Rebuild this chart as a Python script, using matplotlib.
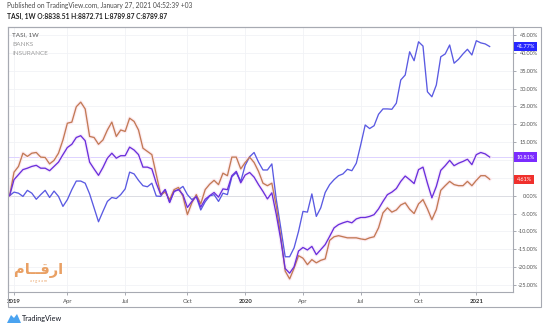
import matplotlib
matplotlib.use('Agg')
import matplotlib.pyplot as plt
import numpy as np
import pandas as pd
from matplotlib.patches import Rectangle, Polygon
import matplotlib.transforms as mtransforms

# ---------------- data (weekly % change from first bar) ----------------
start_date = '2018-12-31'

tasi = [0, 4.5, 5.9, 7.3, 7.7, 8.2, 8.5, 7.7, 7.7, 7.0,
        8.2, 9.4, 11.5, 13.5, 14.4, 16.3, 16.8, 15.4, 9.4, 7.5,
        5.7, 7.9, 10.5, 11.9, 10.5, 11.2, 11.2, 13.6, 12.8, 11.5,
        8.0, 8.0, 7.5, 3.5, 0.3, 1.7, -1.9, 1.2, 1.7, 0.3,
        -3.3, -1.6, -0.2, -3.2, -1.0, 0.0, 0.9, -0.4, 1.9, 1.7,
        5.6, 6.8, 3.6, 5.8, 6.5, 5.2, 3.1, 1.2, -0.9, 0.8,
        -5.3, -12.3, -20.4, -21.7, -19.9, -15.5, -14.5, -15.2, -14.2, -16.5,
        -15.1, -13.7, -11.4, -9.0, -8.1, -7.6, -7.2, -7.6, -6.5, -6.1,
        -6.1, -5.8, -5.3, -3.7, -1.6, 0.3, 1.0, 2.0, 4.0, 5.5,
        4.5, 3.4, 7.3, 8.0, 3.5, -0.6, 2.6, 7.1, 8.4, 9.9,
        8.4, 9.1, 9.6, 10.2, 8.7, 11.5, 12.1, 11.7, 10.81]

banks = [0, 6.6, 8.2, 11.9, 11.0, 11.9, 12.1, 10.8, 10.7, 8.9,
         9.9, 11.9, 15.6, 20.3, 20.6, 24.9, 26.2, 24.3, 16.6, 16.3,
         14.4, 15.6, 18.4, 20.6, 16.6, 18.4, 18.0, 21.7, 20.8, 18.4,
         13.3, 12.4, 11.5, 5.9, 0.3, 1.0, -1.1, 1.7, 2.3, -0.2,
         -5.3, -2.0, 0.3, -2.3, 1.7, 3.2, 4.3, 3.1, 6.3, 5.6,
         10.8, 10.8, 7.5, 9.3, 10.8, 9.3, 6.8, 3.5, 2.8, 3.5,
         -3.0, -11.4, -21.1, -23.3, -20.3, -16.8, -17.5, -19.3, -17.9, -18.8,
         -18.1, -17.7, -12.5, -11.5, -11.2, -11.5, -11.8, -11.8, -11.8, -12.1,
         -12.3, -11.8, -11.5, -9.0, -4.8, -3.4, -4.6, -4.0, -2.6, -2.0,
         -3.8, -5.0, -2.3, -1.1, -3.7, -6.7, -3.9, 1.5, 2.8, 4.0,
         3.1, 2.8, 2.8, 4.0, 2.8, 4.3, 5.6, 5.6, 4.61]

insurance = [0, 1.0, 0.7, -0.2, 1.5, 0.7, -1.0, 0.3, 1.5, -0.5,
             1.3, -0.2, -3.0, -1.1, 1.7, 4.1, 4.1, 3.5, 0.5, -3.4,
             -7.3, -4.4, -1.6, -0.5, -0.8, 0.3, 1.9, 6.6, 6.1, 4.3,
             2.8, 2.5, 3.5, -0.1, -0.2, 1.7, -1.8, 1.2, 1.7, 2.6,
             0.3, -1.1, -0.2, -4.0, -1.7, -0.1, 0.3, -1.6, 0.7, 0.3,
             5.3, 6.5, 4.0, 8.5, 10.9, 12.1, 9.4, 7.2, 7.2, 8.9,
             -1.1, -9.0, -17.1, -17.1, -14.6, -10.0, -4.4, -4.6, 0.5, -5.8,
             -3.4, 0.9, 3.1, 4.5, 5.6, 6.1, 7.4, 7.0, 9.1, 14.3,
             19.8, 18.8, 19.6, 22.8, 24.3, 24.3, 24.2, 25.9, 32.4, 33.8,
             40.3, 37.8, 43.1, 41.9, 29.1, 27.7, 31.0, 38.9, 39.7, 42.2,
             37.1, 38.2, 39.7, 41.0, 39.4, 43.4, 42.8, 42.5, 41.77]

series_names = ['TASI, 1W', 'BANKS', 'INSURANCE']
y_ticks = [45, 40, 35, 30, 25, 20, 15, 0, -5, -10, -15, -20, -25]
month_names = {4: 'Apr', 7: 'Jul', 10: 'Oct'}

header1 = 'Published on TradingView.com, January 27, 2021 04:52:39 +03'
header2 = 'TASI, 1W O:8838.51 H:8872.71 L:8789.87 C:8789.87'

# ---------------- styling ----------------
c_tasi = '#6a2fdc'
c_ins = '#5a5ae2'
c_banks = '#c27a55'
frame_c = '#a7aab2'
plt.rcParams['font.family'] = ['Lato', 'DejaVu Sans']

W, H = 550, 328
fig = plt.figure(figsize=(W / 100, H / 100), dpi=100)
fig.patch.set_facecolor('white')


def fx(px):
    return px / W


def fy(py):
    return 1 - py / H


ax = fig.add_axes([fx(8), fy(292), fx(513) - fx(8), fy(27) - fy(292)])
ax.set_facecolor('white')

n = len(tasi)
x = np.arange(n)
dates = pd.date_range(start_date, periods=n, freq='W-MON')

# x ticks at first bar of each quarter month
tick_pos, tick_lab, tick_bold = [], [], []
for i in range(1, n):
    if dates[i].month != dates[i - 1].month and dates[i].month in (1, 4, 7, 10):
        tick_pos.append(i)
        if dates[i].month == 1:
            tick_lab.append(str(dates[i].year))
            tick_bold.append(True)
        else:
            tick_lab.append(month_names[dates[i].month])
            tick_bold.append(False)

# grid
ax.set_axisbelow(True)
for tp in tick_pos:
    ax.axvline(tp, color='#f1f2f6', lw=0.6, zorder=0)
for v in range(-25, 50, 5):
    ax.axhline(v, color='#f1f2f6', lw=0.6, zorder=0)

# base and price lines
ax.axhline(0, color='#dcdde3', lw=0.7, zorder=1)
ax.axhline(tasi[-1], color='#ddd2ff', lw=0.7, zorder=1)

# lines with soft halo
for vals, halo in [(banks, '#fdebf1'), (tasi, '#f8ecfb')]:
    ax.plot(x, vals, color=halo, lw=2.6, solid_joinstyle='round', zorder=2)
for vals, col in [(insurance, c_ins), (banks, c_banks), (tasi, c_tasi)]:
    ax.plot(x, vals, color=col, lw=0.95, solid_joinstyle='round', zorder=3)

ax.set_xlim(-0.36, 113.25)
ax.set_ylim(-26.97, 47.24)

ax.set_xticks(tick_pos)
ax.set_xticklabels(tick_lab)
for lbl, b in zip(ax.get_xticklabels(), tick_bold):
    if b:
        lbl.set_fontweight('bold')
        lbl.set_color('#333333')
    else:
        lbl.set_color('#555555')
ax.tick_params(axis='x', length=2, width=0.6, color='#9a9da6', labelsize=4.3, pad=3.2)

ax.yaxis.tick_right()
ax.set_yticks(y_ticks)
ax.set_yticklabels([f'{v:.2f}%' for v in y_ticks])
ax.tick_params(axis='y', length=2, width=0.6, color='#9a9da6', labelsize=4.0,
               labelcolor='#555555', pad=16.2)
for lbl in ax.get_yticklabels():
    lbl.set_ha('right')

for s in ax.spines.values():
    s.set_color(frame_c)
    s.set_linewidth(0.8)

# outer frame
fig.add_artist(Rectangle((fx(7.6), fy(307)), fx(541) - fx(7.6), fy(27) - fy(307),
                         transform=fig.transFigure, fill=False, ec=frame_c, lw=0.8))

# last value labels on the price scale
trans = mtransforms.blended_transform_factory(ax.transAxes, ax.transData)
for vals, col in [(insurance, '#2626ff'), (tasi, '#7b2cff'), (banks, '#f0302c')]:
    ax.text(1 + 3.5 / 505, vals[-1], f'{vals[-1]:.2f}%', transform=trans,
            ha='left', va='center', fontsize=4.0, color='white', clip_on=False,
            bbox=dict(boxstyle='square,pad=0.4', fc=col, ec='none'), zorder=6)

# headers
fig.text(fx(7), fy(5.5), header1, fontsize=4.75, color='#4a4a4a', va='center', ha='left')
fig.text(fx(7), fy(16.5), header2, fontsize=4.9, color='#222222', va='center', ha='left',
         fontweight='bold')

# legend in pane
for k, (name, col) in enumerate(zip(series_names, ['#555555', '#9a9a9a', '#9a9a9a'])):
    fig.text(fx(12), fy(34.5 + k * 9.5), name, fontsize=4.6, color=col, va='center', ha='left')

# watermark logo text
fig.text(fx(38.5), fy(270), '\ufee1\ufe8e\u0640\u0640\ufed7\ufead\ufe8d', fontsize=10.5,
         color='#e9a064', family=['DejaVu Sans'], fontweight='bold', ha='center', va='center')
fig.text(fx(38.5), fy(281), 'a r g a a m', fontsize=2.8, color='#eaa56b', ha='center', va='center')

# TradingView footer
fig.add_artist(Polygon([[fx(7), fy(323)], [fx(11), fy(315)], [fx(14), fy(318)],
                        [fx(17), fy(314)], [fx(21), fy(323)]], closed=True,
                       transform=fig.transFigure, fc='#4aa3f0', ec='none'))
fig.text(fx(22), fy(318.5), 'TradingView', fontsize=5.2, color='#131722', va='center', ha='left')

fig.savefig('out.png', dpi=100, facecolor='white')
